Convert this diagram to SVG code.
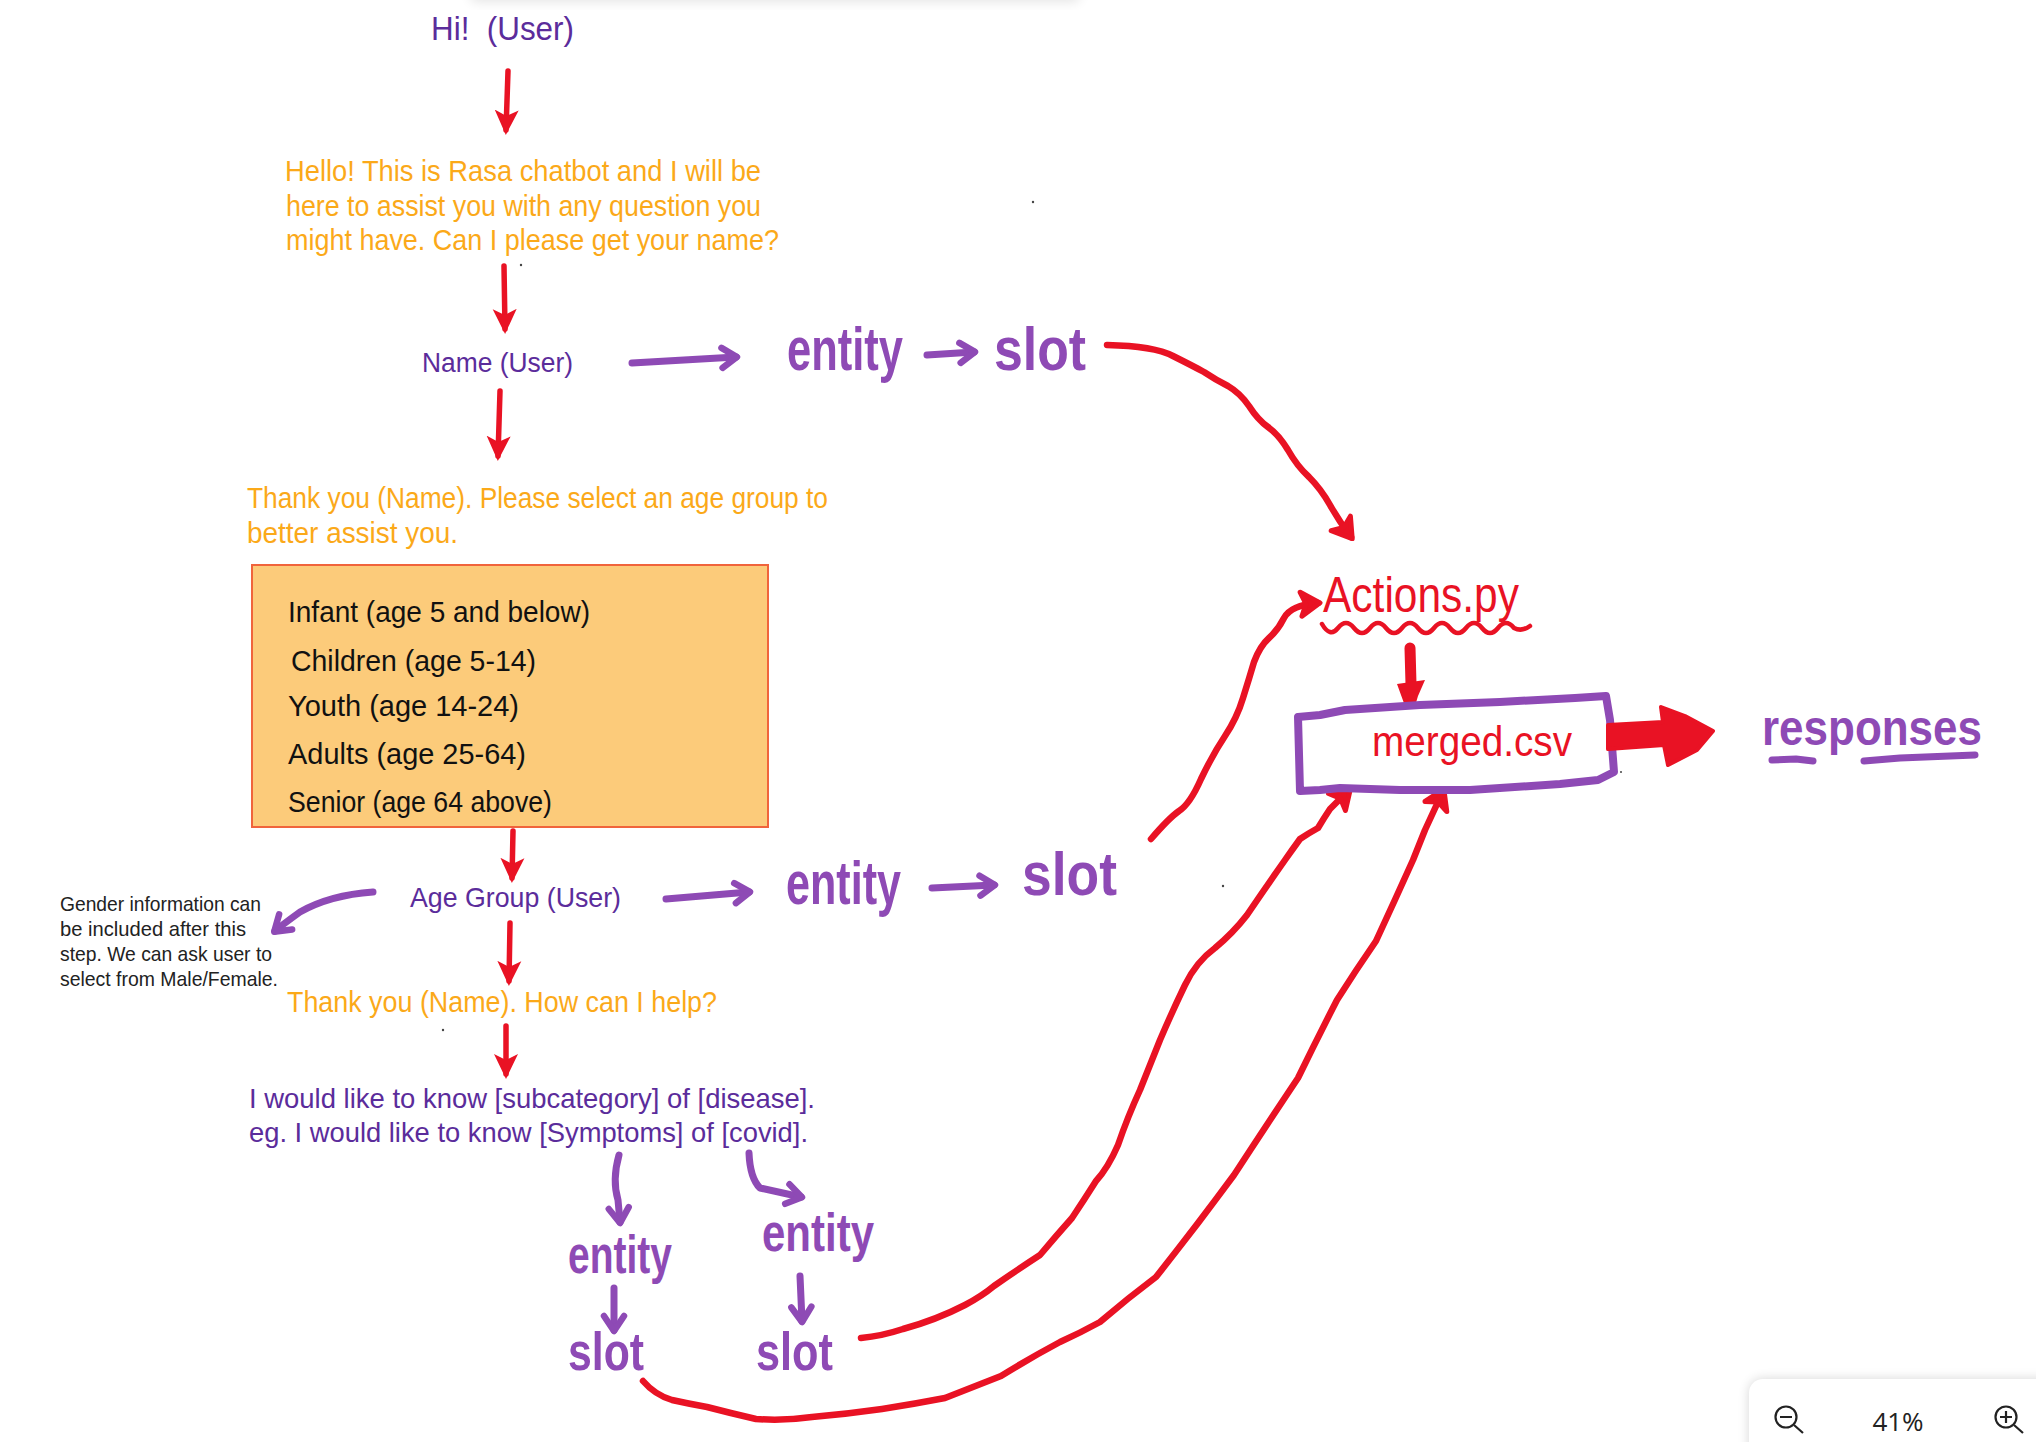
<svg xmlns="http://www.w3.org/2000/svg" width="2036" height="1442" viewBox="0 0 2036 1442">
<defs>
<style>
text{font-family:"Liberation Sans Narrow","Liberation Sans",Arial,sans-serif;white-space:pre}
.u{font-size:30px;fill:#5B2C9B}
.o{font-size:29px;fill:#FBA919}
.k{font-size:29px;fill:#111}
.n{font-size:21px;fill:#222}
.big{font-size:62px;font-weight:bold;fill:#8E4AB5}
.mid{font-size:54px;font-weight:bold;fill:#8E4AB5}
.r{fill:none;stroke:#E91224;stroke-width:5.5;stroke-linecap:round;stroke-linejoin:round}
.c{stroke-width:6.5}
.p{fill:none;stroke:#8E4AB5;stroke-width:7;stroke-linecap:round;stroke-linejoin:round}
</style>
<marker id="rd" markerUnits="userSpaceOnUse" markerWidth="30" markerHeight="30" refX="20" refY="13" orient="auto"><path d="M0 1L25 13L0 25L6 13Z" fill="#E91224"/></marker>
<marker id="rb" markerUnits="userSpaceOnUse" markerWidth="34" markerHeight="34" refX="20" refY="15" orient="auto"><path d="M3 3L22 15L3 27L8 15Z" fill="#E91224" stroke="#E91224" stroke-width="5" stroke-linecap="round" stroke-linejoin="round"/></marker>
<marker id="pb" markerUnits="userSpaceOnUse" markerWidth="32" markerHeight="32" refX="18" refY="14" orient="auto"><path d="M4 4L19 14L4 24" fill="none" stroke="#8E4AB5" stroke-width="6.5" stroke-linecap="round" stroke-linejoin="round"/></marker>
<filter id="sh" x="-20%" y="-50%" width="140%" height="200%"><feGaussianBlur stdDeviation="6"/></filter>
</defs>
<rect width="2036" height="1442" fill="#fff"/>
<rect x="470" y="-14" width="610" height="16" rx="6" fill="#000" opacity=".1" filter="url(#sh)"/>

<g id="connectors">
<path class="r" marker-end="url(#rd)" d="M508 71L506 130"/>
<path class="r" marker-end="url(#rd)" d="M504 266L505 329"/>
<path class="r" marker-end="url(#rd)" d="M500 391L498 456"/>
<path class="r" marker-end="url(#rd)" d="M513 831L512 878"/>
<path class="r" marker-end="url(#rd)" d="M510 923L509 981"/>
<path class="r" marker-end="url(#rd)" d="M506 1026L506 1074"/>
<path class="r c" marker-end="url(#rb)" d="M1107 345Q1154 346 1173 356Q1193 366 1204 372Q1216 380 1228 386Q1240 393 1249 406Q1258 420 1268 427Q1279 435 1288 450Q1297 466 1309 477Q1321 489 1330 505Q1339 521 1351 537"/>
<path class="r c" marker-end="url(#rb)" d="M1151 839Q1169 818 1179 811Q1190 804 1201 779Q1213 754 1225 736Q1237 718 1243 698Q1249 679 1254 662Q1260 646 1269 638Q1278 630 1284 618Q1291 605 1318 603"/>
<path class="r c" marker-end="url(#rb)" d="M861 1338Q882 1336 903 1329Q936 1320 965 1305Q982 1296 994 1286Q1017 1270 1040 1255Q1056 1236 1072 1218Q1084 1200 1096 1181Q1108 1168 1118 1145Q1128 1116 1140 1090Q1150 1065 1160 1040Q1172 1012 1185 985Q1196 962 1215 948Q1233 933 1247 915Q1266 887 1285 860Q1292 850 1300 839Q1309 833 1318 828Q1324 818 1330 809L1349 790"/>
<path class="r c" marker-end="url(#rb)" d="M643 1381Q655 1395 672 1400Q690 1404 707 1407Q730 1413 756 1419Q784 1421 812 1417Q847 1414 882 1409Q914 1404 945 1398Q973 1387 1001 1376Q1030 1358 1060 1342Q1080 1333 1100 1322Q1128 1298 1156 1277Q1195 1228 1234 1175Q1266 1126 1298 1078Q1317 1039 1337 1000Q1356 970 1376 941Q1395 900 1413 860Q1419 845 1425 830L1443 791"/>
<path class="r" style="stroke-width:11" d="M1410 648L1411 684"/>
<path fill="#E91224" d="M1397 684L1425 680L1418 696L1415 706L1405 706Z"/>
<path class="p" marker-end="url(#pb)" d="M632 363L736 357"/>
<path class="p" marker-end="url(#pb)" d="M927 355L974 352"/>
<path class="p" marker-end="url(#pb)" d="M666 899L749 892"/>
<path class="p" marker-end="url(#pb)" d="M932 888L994 885"/>
<path class="p" marker-end="url(#pb)" d="M373 892Q330 895 300 912Q282 925 275 931"/>
<path class="p" marker-end="url(#pb)" d="M619 1155Q612 1180 618 1200L620 1222"/>
<path class="p" marker-end="url(#pb)" d="M749 1153Q750 1178 760 1188L801 1197"/>
<path class="p" marker-end="url(#pb)" d="M614 1288L614 1330"/>
<path class="p" marker-end="url(#pb)" d="M800 1276L802 1321"/>
</g>

<g id="user-hi"><text class="u" style="font-size:34px" x="431" y="40" textLength="143" lengthAdjust="spacingAndGlyphs">Hi!  (User)</text></g>
<g id="bot-hello">
<text class="o" x="285" y="181" textLength="476" lengthAdjust="spacingAndGlyphs">Hello! This is Rasa chatbot and I will be</text>
<text class="o" x="286" y="216" textLength="475" lengthAdjust="spacingAndGlyphs">here to assist you with any question you</text>
<text class="o" x="286" y="250" textLength="493" lengthAdjust="spacingAndGlyphs">might have. Can I please get your name?</text>
</g>
<g id="user-name"><text class="u" style="font-size:27px" x="422" y="372" textLength="151" lengthAdjust="spacingAndGlyphs">Name (User)</text></g>
<g id="name-entity"><text class="big" x="787" y="370" textLength="116" lengthAdjust="spacingAndGlyphs">entity</text><text class="big" x="994" y="370" textLength="92" lengthAdjust="spacingAndGlyphs">slot</text></g>
<g id="bot-age">
<text class="o" x="247" y="508" textLength="581" lengthAdjust="spacingAndGlyphs">Thank you (Name). Please select an age group to</text>
<text class="o" x="247" y="543" textLength="211" lengthAdjust="spacingAndGlyphs">better assist you.</text>
</g>
<g id="age-box">
<rect x="252" y="565" width="516" height="262" fill="#FCCB7A" stroke="#F0643C" stroke-width="2"/>
<text class="k" x="288" y="622" textLength="302" lengthAdjust="spacingAndGlyphs">Infant (age 5 and below)</text>
<text class="k" x="291" y="671" textLength="245" lengthAdjust="spacingAndGlyphs">Children (age 5-14)</text>
<text class="k" x="288" y="716" textLength="231" lengthAdjust="spacingAndGlyphs">Youth (age 14-24)</text>
<text class="k" x="288" y="764" textLength="238" lengthAdjust="spacingAndGlyphs">Adults (age 25-64)</text>
<text class="k" x="288" y="812" textLength="264" lengthAdjust="spacingAndGlyphs">Senior (age 64 above)</text>
</g>
<g id="user-age"><text class="u" style="font-size:28px" x="410" y="907" textLength="211" lengthAdjust="spacingAndGlyphs">Age Group (User)</text></g>
<g id="age-entity"><text class="big" x="786" y="904" textLength="115" lengthAdjust="spacingAndGlyphs">entity</text><text class="big" x="1022" y="895" textLength="95" lengthAdjust="spacingAndGlyphs">slot</text></g>
<g id="gender-note">
<text class="n" x="60" y="911" textLength="201" lengthAdjust="spacingAndGlyphs">Gender information can</text>
<text class="n" x="60" y="936" textLength="186" lengthAdjust="spacingAndGlyphs">be included after this</text>
<text class="n" x="60" y="961" textLength="212" lengthAdjust="spacingAndGlyphs">step. We can ask user to</text>
<text class="n" x="60" y="986" textLength="218" lengthAdjust="spacingAndGlyphs">select from Male/Female.</text>
</g>
<g id="bot-help"><text class="o" x="287" y="1012" textLength="430" lengthAdjust="spacingAndGlyphs">Thank you (Name). How can I help?</text></g>
<g id="user-query">
<text class="u" style="font-size:28px" x="249" y="1108" textLength="566" lengthAdjust="spacingAndGlyphs">I would like to know [subcategory] of [disease].</text>
<text class="u" style="font-size:28px" x="249" y="1142" textLength="559" lengthAdjust="spacingAndGlyphs">eg. I would like to know [Symptoms] of [covid].</text>
</g>
<g id="sub-entity"><text class="mid" x="568" y="1273" textLength="104" lengthAdjust="spacingAndGlyphs">entity</text></g>
<g id="sub-slot"><text class="mid" x="568" y="1370" textLength="76" lengthAdjust="spacingAndGlyphs">slot</text></g>
<g id="dis-entity"><text class="mid" x="762" y="1251" textLength="112" lengthAdjust="spacingAndGlyphs">entity</text></g>
<g id="dis-slot"><text class="mid" x="756" y="1370" textLength="77" lengthAdjust="spacingAndGlyphs">slot</text></g>

<g id="actions">
<text x="1323" y="612" textLength="196" lengthAdjust="spacingAndGlyphs" style="font-size:50px;fill:#E91224">Actions.py</text>
<path class="r" style="stroke-width:4.5" d="M1322 624Q1330 638 1338 628Q1346 618 1354 628Q1362 638 1370 628Q1378 618 1386 628Q1394 638 1402 628Q1410 618 1418 628Q1426 638 1434 628Q1442 618 1450 628Q1458 638 1466 628Q1474 618 1482 628Q1490 638 1498 628Q1506 618 1514 628Q1522 632 1530 626"/>
</g>
<g id="merged">
<path class="p" style="stroke-width:8" d="M1298 717L1320 715L1345 710L1420 705L1500 702L1575 698L1606 696L1610 720L1614 772L1598 780L1560 784L1470 790L1400 790L1340 788L1320 790L1300 791Z"/>
<text x="1372" y="756" textLength="200" lengthAdjust="spacingAndGlyphs" style="font-size:42px;fill:#E91224">merged.csv</text>
</g>
<path id="big-arrow" fill="#E91224" stroke="#E91224" stroke-width="4" stroke-linejoin="round" d="M1608 725L1663 722L1661 707L1685 716L1713 731L1697 750L1668 765L1664 745L1608 749Z"/>
<g id="responses">
<text class="mid" x="1762" y="745" textLength="220" lengthAdjust="spacingAndGlyphs" style="font-size:50px">responses</text>
<path class="p" d="M1772 760L1796 759L1813 761M1864 761L1900 758L1975 755"/>
</g>

<g fill="#444"><circle cx="1033" cy="202" r="1.2"/><circle cx="521" cy="265" r="1.2"/><circle cx="443" cy="1030" r="1.2"/><circle cx="1223" cy="886" r="1.2"/><circle cx="1621" cy="772" r="1"/></g>

<g id="zoom-widget">
<rect x="1749" y="1379" width="320" height="90" rx="14" fill="#000" opacity=".16" filter="url(#sh)"/>
<rect x="1749" y="1379" width="320" height="90" rx="14" fill="#fff"/>
<g fill="none" stroke="#222" stroke-width="2.2">
<circle cx="1786" cy="1417" r="10.5"/><path d="M1794 1425L1803 1433M1780 1417H1792"/>
<circle cx="2006" cy="1417" r="10.5"/><path d="M2014 1425L2023 1433M2000 1417H2012M2006 1411V1423"/>
</g>
<text x="1898" y="1431" text-anchor="middle" style="font-family:'Open Sans',sans-serif;font-size:26px;fill:#222">41%</text>
</g>
</svg>
